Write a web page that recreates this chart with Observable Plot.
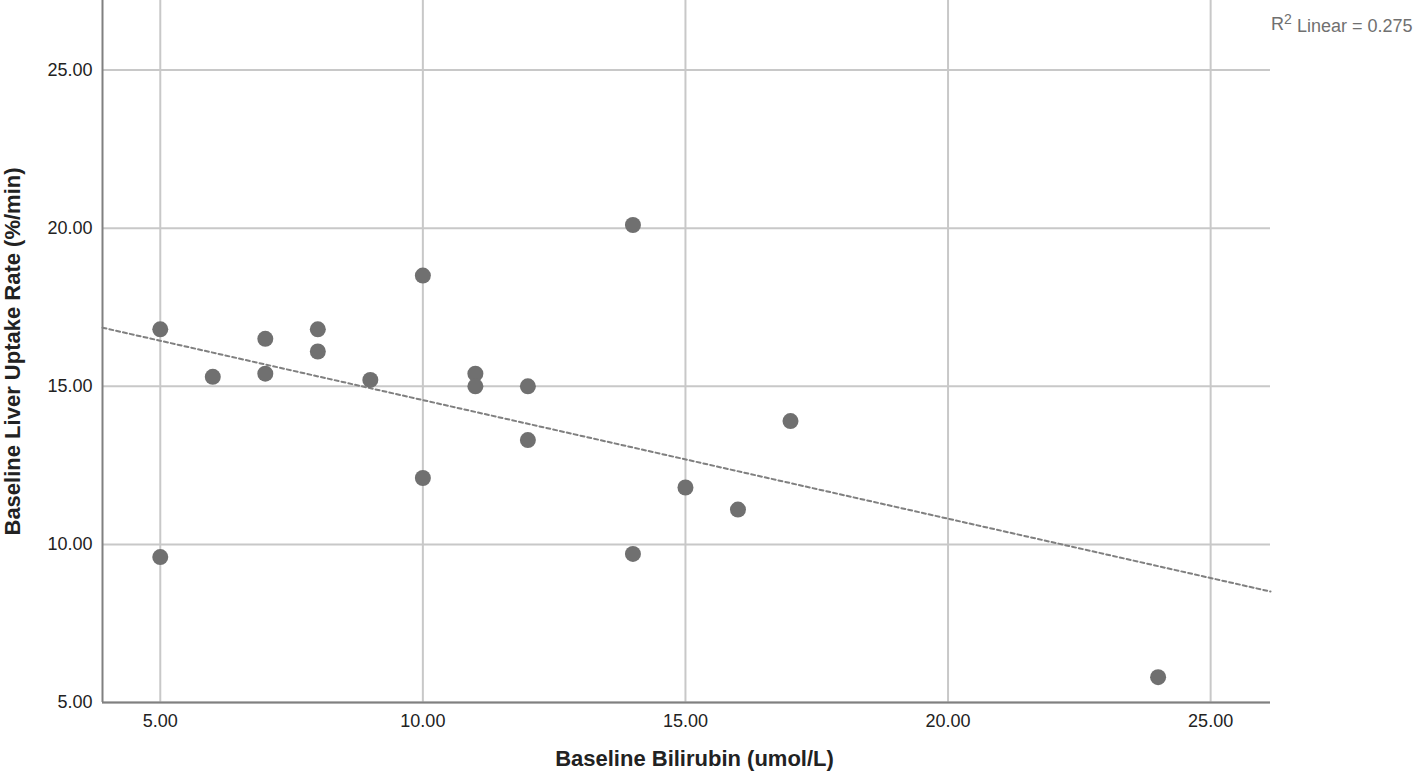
<!DOCTYPE html>
<html>
<head>
<meta charset="utf-8">
<script src="https://cdn.jsdelivr.net/npm/d3@7"></script>
<script src="https://cdn.jsdelivr.net/npm/@observablehq/plot@0.6"></script>
<style>
  html, body { margin: 0; padding: 0; background: #fff; }
  #chart svg { display: block; }
</style>
</head>
<body>
<div id="chart"></div>
<script>
const bilirubin = [5, 5, 6, 7, 7, 8, 8, 9, 10, 10, 11, 11, 12, 12, 14, 14, 15, 16, 17, 24];
const uptake = [16.8, 9.6, 15.3, 16.5, 15.4, 16.8, 16.1, 15.2, 18.5, 12.1, 15.4, 15.0, 15.0, 13.3, 20.1, 9.7, 11.8, 11.1, 13.9, 5.8];
const xTicks = [5, 10, 15, 20, 25];
const yTicks = [5, 10, 15, 20, 25];
const xDomain = [3.9, 26.14];
const yDomain = [5, 27.2];
const r2Value = "0.275";

const data = bilirubin.map((x, i) => ({x, y: uptake[i]}));

// least-squares fit across the axis range (as in SPSS fit line)
const mx = d3.mean(bilirubin), my = d3.mean(uptake);
const sxy = d3.sum(data, d => (d.x - mx) * (d.y - my));
const sxx = d3.sum(data, d => (d.x - mx) ** 2);
const slope = sxy / sxx, intercept = my - slope * mx;
const fit = xDomain.map(x => ({x, y: intercept + slope * x}));

const chart = Plot.plot({
  width: 1416,
  height: 774,
  marginLeft: 102,
  marginRight: 146,
  marginTop: 0,
  marginBottom: 72,
  style: {fontFamily: "'Liberation Sans', Arial, sans-serif", fontSize: "18px", color: "#222", background: "#fff"},
  x: {domain: xDomain, ticks: xTicks, tickFormat: d => d.toFixed(2), label: null},
  y: {domain: yDomain, ticks: yTicks, tickFormat: d => d.toFixed(2), label: null},
  marks: [
    Plot.gridX(xTicks, {stroke: "#c8c8c8", strokeOpacity: 1, strokeWidth: 2}),
    Plot.gridY(yTicks, {stroke: "#c8c8c8", strokeOpacity: 1, strokeWidth: 2}),
    Plot.axisX(xTicks, {tickSize: 0, tickPadding: 12, fontSize: 18, fill: "#222", tickFormat: d => d.toFixed(2)}),
    Plot.axisY(yTicks, {tickSize: 0, tickPadding: 10, fontSize: 18, fill: "#222", tickFormat: d => d.toFixed(2)}),
    Plot.ruleX([xDomain[0]], {stroke: "#808080", strokeWidth: 2}),
    Plot.ruleY([yDomain[0]], {stroke: "#808080", strokeWidth: 2}),
    Plot.line(fit, {x: "x", y: "y", stroke: "#808080", strokeWidth: 2, strokeDasharray: "4,3"}),
    Plot.dot(data, {x: "x", y: "y", r: 8, fill: "#707070", stroke: "none"}),
    Plot.text(["R2 Linear = " + r2Value], {frameAnchor: "top-right", text: d => d, dx: 142, dy: 17, fontSize: 18, fill: "#707070", textAnchor: "end", className: "r2label"}),
    Plot.text(["Baseline Bilirubin (umol/L)"], {frameAnchor: "bottom", text: d => d, dx: 8, dy: 63, fontSize: 22, fontWeight: "bold", fill: "#222"}),
    Plot.text(["Baseline Liver Uptake Rate (%/min)"], {frameAnchor: "left", text: d => d, dx: -90, rotate: -90, textAnchor: "middle", fontSize: 22, fontWeight: "bold", fill: "#222"})
  ]
});

// superscript 2 in the R² label
d3.select(chart).selectAll(".r2label text").each(function() {
  const t = d3.select(this);
  const txt = t.text();
  t.text(null);
  t.append("tspan").text("R");
  t.append("tspan").attr("dy", "-0.45em").attr("font-size", "14px").text("2");
  t.append("tspan").attr("dy", "0.45em").text(txt.slice(2));
});

document.getElementById("chart").appendChild(chart);
</script>
</body>
</html>
